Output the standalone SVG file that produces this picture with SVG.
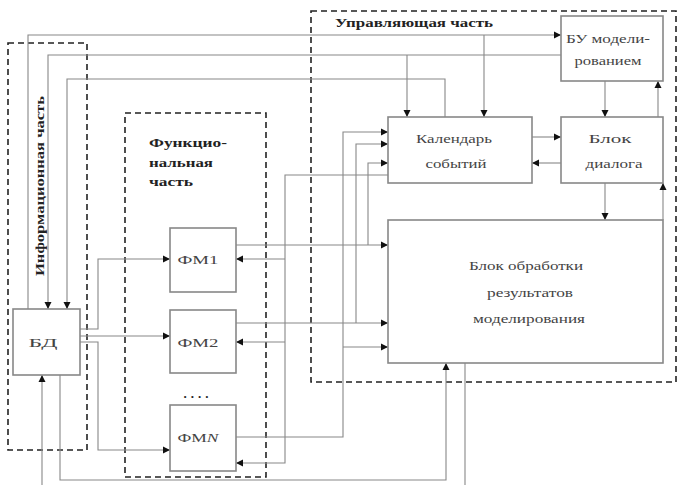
<svg xmlns="http://www.w3.org/2000/svg" width="677" height="485" viewBox="0 0 677 485">
<defs>
<marker id="ar" markerWidth="8" markerHeight="8" refX="7" refY="4" orient="auto" markerUnits="userSpaceOnUse">
<path d="M0,0.5 L7,4 L0,7.5 z" fill="#111"/>
</marker>
<style>
.box{fill:#fff;stroke:#888;stroke-width:1.6}
.dash{fill:none;stroke:#222;stroke-width:1.6;stroke-dasharray:6,4}
.c{fill:none;stroke:#888;stroke-width:1.1}
.a{marker-end:url(#ar)}
.t{font-family:"Liberation Serif","Times New Roman",serif;font-size:13px;fill:#444;text-anchor:middle}
.b{font-family:"Liberation Serif","Times New Roman",serif;font-size:13px;font-weight:bold;fill:#222}
</style>
</defs>
<rect width="677" height="485" fill="#fff"/>
<g id="info-part">
<rect class="dash" x="8" y="43" width="79" height="407"/>
<text class="b" transform="translate(44,186) rotate(-90)" text-anchor="middle" textLength="180" lengthAdjust="spacingAndGlyphs">Информационная часть</text>
</g>
<g id="func-part">
<rect class="dash" x="125" y="113" width="141" height="364"/>
<text class="b" x="149" y="147" textLength="78" lengthAdjust="spacingAndGlyphs">Функцио-</text>
<text class="b" x="149" y="167" textLength="64" lengthAdjust="spacingAndGlyphs">нальная</text>
<text class="b" x="149" y="186" textLength="44" lengthAdjust="spacingAndGlyphs">часть</text>
</g>
<g id="control-part">
<rect class="dash" x="311" y="11" width="365" height="371"/>
<text class="b" x="335" y="27" textLength="158" lengthAdjust="spacingAndGlyphs">Управляющая часть</text>
</g>
<g id="connectors">
<path class="c a" d="M28,309 V35 H561"/>
<path class="c a" d="M484,35 V117"/>
<path class="c a" d="M561,55 H48 V309"/>
<path class="c a" d="M407,55 V117"/>
<path class="c a" d="M445,117 V79 H67 V309"/>
<path class="c a" d="M532,137 H561"/>
<path class="c a" d="M561,163 H532"/>
<path class="c a" d="M605,81 V117"/>
<path class="c a" d="M658,117 V81"/>
<path class="c a" d="M605,183 V220"/>
<path class="c a" d="M663,220 V183"/>
<path class="c a" d="M388,175 H285 V463 H236"/>
<path class="c a" d="M285,259 H236"/>
<path class="c a" d="M285,342 H236"/>
<path class="c a" d="M236,245 H388"/>
<path class="c a" d="M368,245 V163 H388"/>
<path class="c a" d="M236,323 H388"/>
<path class="c a" d="M356,323 V144 H388"/>
<path class="c a" d="M236,437 H343 V132 H388"/>
<path class="c a" d="M343,347 H388"/>
<path class="c a" d="M80,329 H98 V259 H170"/>
<path class="c a" d="M80,336 H170"/>
<path class="c a" d="M80,342 H98 V450 H170"/>
<path class="c a" d="M42,485 V375"/>
<path class="c a" d="M60,375 V480 H446 V363"/>
<path class="c" d="M465,363 V485"/>
</g>
<g id="bu">
<rect class="box" x="561" y="16" width="102" height="65"/>
<text class="t" x="608" y="43" textLength="84" lengthAdjust="spacingAndGlyphs">БУ модели-</text>
<text class="t" x="608" y="65" textLength="67" lengthAdjust="spacingAndGlyphs">рованием</text>
</g>
<g id="calendar">
<rect class="box" x="388" y="117" width="144" height="66"/>
<text class="t" x="454" y="143" textLength="76" lengthAdjust="spacingAndGlyphs">Календарь</text>
<text class="t" x="456" y="168" textLength="61" lengthAdjust="spacingAndGlyphs">событий</text>
</g>
<g id="dialog">
<rect class="box" x="561" y="117" width="102" height="66"/>
<text class="t" x="610" y="143" textLength="43" lengthAdjust="spacingAndGlyphs">Блок</text>
<text class="t" x="614" y="168" textLength="57" lengthAdjust="spacingAndGlyphs">диалога</text>
</g>
<g id="processing">
<rect class="box" x="388" y="220" width="275" height="143"/>
<text class="t" x="526" y="270" textLength="114" lengthAdjust="spacingAndGlyphs">Блок обработки</text>
<text class="t" x="530" y="297" textLength="86" lengthAdjust="spacingAndGlyphs">результатов</text>
<text class="t" x="529" y="323" textLength="112" lengthAdjust="spacingAndGlyphs">моделирования</text>
</g>
<g id="bd">
<rect class="box" x="13" y="309" width="67" height="66"/>
<text class="t" x="43" y="347" textLength="29" lengthAdjust="spacingAndGlyphs">БД</text>
</g>
<g id="fm1">
<rect class="box" x="170" y="228" width="66" height="64"/>
<text class="t" x="198" y="264" textLength="41" lengthAdjust="spacingAndGlyphs">ФМ1</text>
</g>
<g id="fm2">
<rect class="box" x="170" y="310" width="66" height="63"/>
<text class="t" x="198" y="347" textLength="41" lengthAdjust="spacingAndGlyphs">ФМ2</text>
</g>
<g id="dots">
<text class="b" x="198" y="398" text-anchor="middle" letter-spacing="4">....</text>
</g>
<g id="fmn">
<rect class="box" x="170" y="405" width="66" height="66"/>
<text class="t" x="198" y="442" textLength="41" lengthAdjust="spacingAndGlyphs">ФМ<tspan font-style="italic">N</tspan></text>
</g>
</svg>
